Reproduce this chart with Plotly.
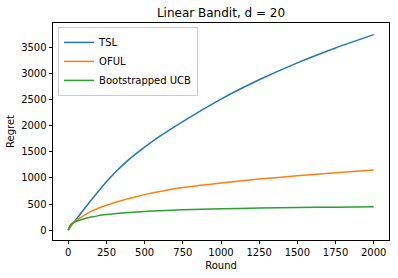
import plotly.graph_objects as go

rounds = [0, 10, 25, 50, 100, 150, 200, 250, 300, 400, 500, 600, 750, 1000, 1250, 1500, 1750, 2000]
tsl = [0, 45, 105, 200, 390, 575, 755, 925, 1085, 1360, 1590, 1800, 2080, 2510, 2880, 3205, 3490, 3745]
oful = [0, 60, 115, 180, 280, 360, 425, 478, 525, 608, 680, 740, 815, 905, 978, 1042, 1098, 1150]
boot = [0, 80, 130, 165, 215, 250, 278, 298, 314, 338, 357, 372, 390, 410, 422, 432, 440, 447]

series_names = ["TSL", "OFUL", "Bootstrapped UCB"]
series_vals = [tsl, oful, boot]
colors = ["#1f77b4", "#ff7f0e", "#2ca02c"]

xticks = [0, 250, 500, 750, 1000, 1250, 1500, 1750, 2000]
yticks = [0, 500, 1000, 1500, 2000, 2500, 3000, 3500]

fig = go.Figure()
for name, vals, c in zip(series_names, series_vals, colors):
    fig.add_trace(go.Scatter(x=rounds, y=vals, mode="lines", name=name,
                             line=dict(color=c, width=1.5, shape="spline", smoothing=0.5)))

axis_common = dict(showgrid=False, zeroline=False, showline=True, linecolor="black",
                   linewidth=0.8, mirror=True, ticks="outside", ticklen=3.5, tickwidth=0.8,
                   tickcolor="black", tickfont=dict(size=10, color="black"), automargin=False)

fig.update_layout(
    width=398, height=278,
    margin=dict(l=53, r=9, t=23, b=38),
    paper_bgcolor="white", plot_bgcolor="white",
    font=dict(family="DejaVu Sans", size=10, color="black"),
    title=dict(text="Linear Bandit, d = 20", x=(53 + 389) / 2 / 398, xanchor="center",
               y=1 - 13 / 278, yanchor="middle", font=dict(size=12, color="black")),
    xaxis=dict(range=[-100, 2100], tickvals=xticks,
               title=dict(text="Round", font=dict(size=10), standoff=4), **axis_common),
    yaxis=dict(range=[-189, 3968], tickvals=yticks,
               title=dict(text="Regret", font=dict(size=10), standoff=4), **axis_common),
    legend=dict(x=0.015, y=0.982, xanchor="left", yanchor="top",
                bgcolor="rgba(255,255,255,0.8)", bordercolor="#cccccc", borderwidth=1,
                font=dict(size=10), tracegroupgap=0, itemwidth=30),
    showlegend=True,
)

fig.write_html("out.html", config={"displayModeBar": False},
               post_script="document.body.style.margin='0';document.body.style.padding='0';")
